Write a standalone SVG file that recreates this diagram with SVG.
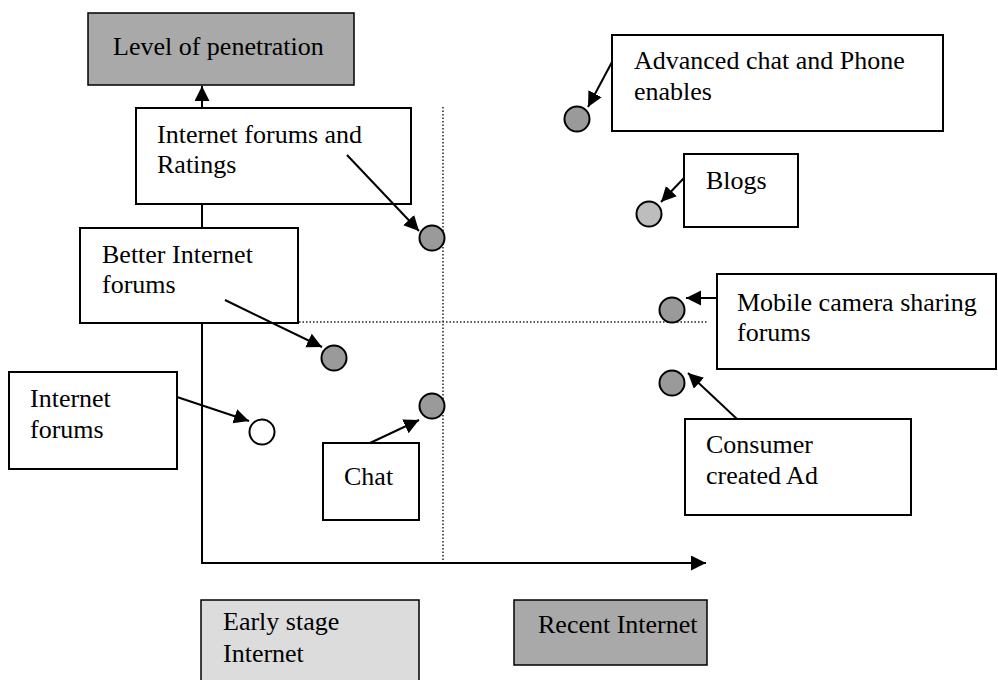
<svg xmlns="http://www.w3.org/2000/svg" width="998" height="680" viewBox="0 0 998 680">
<style>
  .box{fill:#fff;stroke:#000;stroke-width:2}
  .dark{fill:#a9a9a9;stroke:#000;stroke-width:1.5}
  .light{fill:#dcdcdc;stroke:#000;stroke-width:1.5}
  .t{font-family:"Liberation Serif","Times New Roman",serif;font-size:26px;fill:#000}
  .dot{fill:#9a9a9a;stroke:#000;stroke-width:2}
  .conn{stroke:#000;stroke-width:2;fill:none}
  .dotted{stroke:#222;stroke-width:1.5;stroke-dasharray:1.5 2;fill:none}
</style>
<defs>
  <marker id="ah" markerUnits="userSpaceOnUse" markerWidth="16" markerHeight="16" refX="15" refY="7.5" orient="auto">
    <path d="M0,0 L15,7.5 L0,15 z" fill="#000"/>
  </marker>
</defs>
<rect width="998" height="680" fill="#fff"/>
<g id="axes">
  <line class="dotted" x1="443" y1="107" x2="443" y2="563"/>
  <line class="dotted" x1="299" y1="322" x2="707" y2="322"/>
  <line class="conn" x1="202" y1="563" x2="202" y2="86" marker-end="url(#ah)"/>
  <line class="conn" x1="201" y1="563" x2="706" y2="563" marker-end="url(#ah)"/>
</g>
<g id="level">
  <rect class="dark" x="88" y="13" width="266" height="72"/>
  <text class="t" x="113" y="55">Level of penetration</text>
</g>
<g id="ratings">
  <rect class="box" x="136" y="108" width="275" height="96"/>
  <text class="t" x="157" y="143">Internet forums and</text>
  <text class="t" x="157" y="173">Ratings</text>
  <circle class="dot" cx="432" cy="238" r="12.5"/>
</g>
<g id="better">
  <rect class="box" x="80" y="228" width="218" height="95"/>
  <text class="t" x="102" y="263">Better Internet</text>
  <text class="t" x="102" y="293">forums</text>
  <circle class="dot" cx="334" cy="358" r="12.5"/>
</g>
<g id="forums">
  <rect class="box" x="9" y="372" width="168" height="97"/>
  <text class="t" x="30" y="407">Internet</text>
  <text class="t" x="30" y="438">forums</text>
  <circle cx="262" cy="432" r="12.5" fill="#fff" stroke="#000" stroke-width="2"/>
</g>
<g id="chat">
  <rect class="box" x="323" y="443" width="96" height="77"/>
  <text class="t" x="344" y="485">Chat</text>
  <circle class="dot" cx="432" cy="406" r="12.5"/>
</g>
<g id="advanced">
  <rect class="box" x="612" y="35" width="331" height="96"/>
  <text class="t" x="634" y="69">Advanced chat and Phone</text>
  <text class="t" x="634" y="100">enables</text>
  <circle class="dot" cx="577" cy="119" r="12.5"/>
</g>
<g id="blogs">
  <rect class="box" x="684" y="154" width="114" height="73"/>
  <text class="t" x="706" y="189">Blogs</text>
  <circle cx="649" cy="214" r="12.5" fill="#bdbdbd" stroke="#000" stroke-width="2"/>
</g>
<g id="mobile">
  <rect class="box" x="717" y="274" width="279" height="95"/>
  <text class="t" x="737" y="311">Mobile camera sharing</text>
  <text class="t" x="737" y="341">forums</text>
  <circle class="dot" cx="672" cy="310" r="12.5"/>
</g>
<g id="consumer">
  <rect class="box" x="685" y="419" width="226" height="96"/>
  <text class="t" x="706" y="453">Consumer</text>
  <text class="t" x="706" y="484">created Ad</text>
  <circle class="dot" cx="672" cy="383" r="12.5"/>
</g>
<g id="early">
  <rect class="light" x="201" y="600" width="218" height="84"/>
  <text class="t" x="223" y="630">Early stage</text>
  <text class="t" x="223" y="662">Internet</text>
</g>
<g id="recent">
  <rect class="dark" x="514" y="600" width="193" height="65"/>
  <text class="t" x="538" y="633">Recent Internet</text>
</g>
<g id="connectors">
  <line class="conn" x1="347" y1="155" x2="419" y2="231" marker-end="url(#ah)"/>
  <line class="conn" x1="225" y1="300" x2="322" y2="347" marker-end="url(#ah)"/>
  <line class="conn" x1="177" y1="397" x2="249" y2="421" marker-end="url(#ah)"/>
  <line class="conn" x1="370" y1="443" x2="419" y2="420" marker-end="url(#ah)"/>
  <line class="conn" x1="612" y1="62" x2="588" y2="107" marker-end="url(#ah)"/>
  <line class="conn" x1="684" y1="178" x2="661" y2="202" marker-end="url(#ah)"/>
  <line class="conn" x1="717" y1="298" x2="686" y2="298" marker-end="url(#ah)"/>
  <line class="conn" x1="737" y1="419" x2="688" y2="373" marker-end="url(#ah)"/>
</g>
</svg>
